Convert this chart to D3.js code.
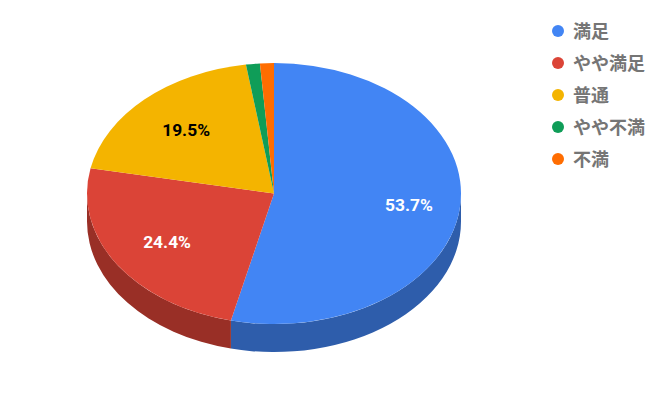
<!DOCTYPE html>
<html><head><meta charset="utf-8">
<script src="https://cdn.jsdelivr.net/npm/d3@7"></script>
<style>html,body{margin:0;padding:0;background:#fff}svg{display:block}</style>
</head><body><svg id="c" width="667" height="415"></svg>
<script>
const categories = ["満足","やや満足","普通","やや不満","不満"];
const seriesValues = [53.7,24.4,19.5,1.2,1.2];
const percentLabels = ["53.7%","24.4%","19.5%","",""];
const colors = ["#4285f4","#db4437","#f4b400","#0f9d58","#ff6d01"];
const sideColors = ["#2e5dab","#992f26","#aa7d00","#0a6d3d","#b24c00"];
const labelColors = ["#fff","#fff","#000","#000","#000"];
const labelRadius = [0.727,0.68,0.68,0.68,0.68];

const cx=274, cy=193.6, rx=187, ry=130.5, depth=28;
const k=ry/rx;
const svg=d3.select("#c");
const pie=d3.pie().sort(null).value(d=>d)(seriesValues);
const arc=d3.arc().innerRadius(0).outerRadius(rx);
const g=svg.append("g").attr("transform",`translate(${cx},${cy}) scale(1,${k})`);

const depthU=depth/k;
pie.forEach((s,i)=>{
  const a0=Math.max(s.startAngle,Math.PI/2), a1=Math.min(s.endAngle,Math.PI*1.5);
  if(a1<=a0) return;
  const p=d3.path();
  p.arc(0,0,rx,a0-Math.PI/2,a1-Math.PI/2);
  p.arc(0,depthU,rx,a1-Math.PI/2,a0-Math.PI/2,true);
  p.closePath();
  g.append("path").attr("d",p.toString()).attr("fill",sideColors[i]);
});
pie.forEach((s,i)=>{
  g.append("path").attr("d",arc(s)).attr("fill",colors[i]);
});
pie.forEach((s,i)=>{
  if(!percentLabels[i]) return;
  const m=(s.startAngle+s.endAngle)/2, f=labelRadius[i];
  svg.append("text")
    .attr("x",cx+rx*f*Math.sin(m)).attr("y",cy-ry*f*Math.cos(m))
    .attr("dy","0.36em").attr("text-anchor","middle")
    .attr("font-family","Roboto, sans-serif").attr("font-weight",700).attr("font-size",17.4)
    .attr("fill",labelColors[i]).text(percentLabels[i]);
});
const legendY=d3.scalePoint().domain(categories).range([31,159]);
const lg=svg.append("g");
categories.forEach((c,i)=>{
  lg.append("circle").attr("cx",558).attr("cy",legendY(c)).attr("r",6).attr("fill",colors[i]);
  lg.append("text").attr("x",573).attr("y",legendY(c)).attr("dy","0.4em")
    .attr("font-family","'Noto Sans CJK JP', sans-serif").attr("font-weight",700)
    .attr("font-size",18).attr("fill","#757575").text(c);
});
</script></body></html>
